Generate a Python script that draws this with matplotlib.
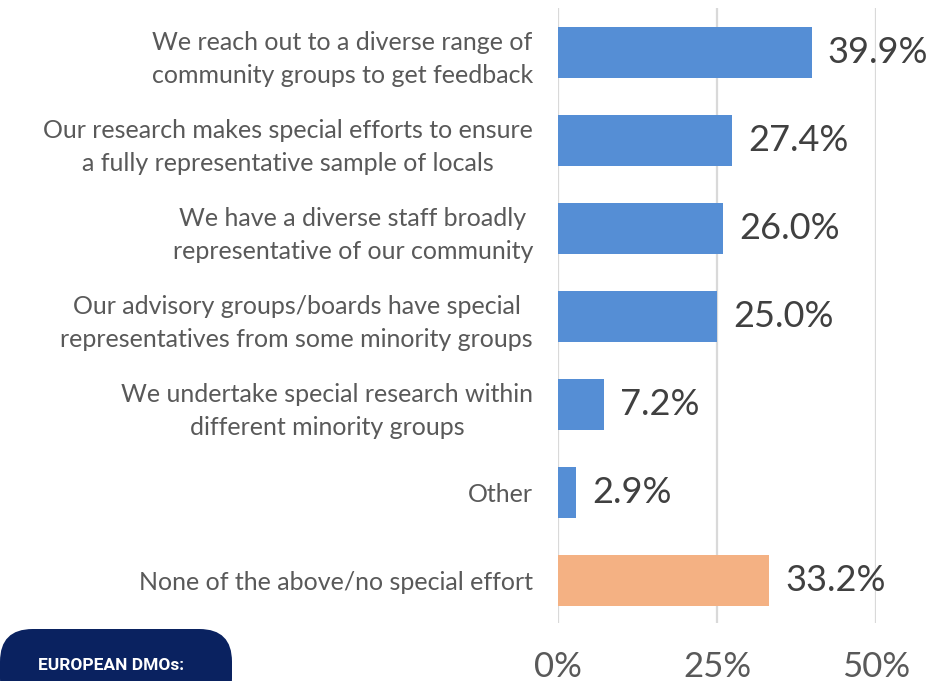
import matplotlib
matplotlib.use("Agg")
import matplotlib.pyplot as plt
from matplotlib.patches import FancyBboxPatch

plt.rcParams['font.family'] = ['Lato', 'DejaVu Sans']

# survey answers, top to bottom
categories = [
    "We reach out to a diverse range of\ncommunity groups to get feedback",
    "Our research makes special efforts to ensure\na fully representative sample of locals",
    "We have a diverse staff broadly\nrepresentative of our community",
    "Our advisory groups/boards have special\nrepresentatives from some minority groups",
    "We undertake special research within\ndifferent minority groups",
    "Other",
    "None of the above/no special effort",
]
shares = [39.9, 27.4, 26.0, 25.0, 7.2, 2.9, 33.2]
x_ticks = [0, 25, 50]
x_tick_labels = ["0%", "25%", "50%"]

BLUE = "#558ed5"
ORANGE = "#f4b183"
bar_colors = [BLUE] * 6 + [ORANGE]

fig = plt.figure(figsize=(9.32, 6.81), dpi=100)
ax = fig.add_axes([558 / 932, 1 - 623 / 681, 318 / 932, 615 / 681])

ypos = list(range(len(categories)))
ax.barh(ypos, shares, height=0.58, color=bar_colors, zorder=3)

for y, v in zip(ypos, shares):
    ax.text(v + 2.5, y, f"{v:.1f}%", va="center", ha="left",
            fontsize=26, color="#404040", clip_on=False)

ax.set_xlim(0, 50)
ax.set_ylim(6.48, -0.5)
ax.set_xticks(x_ticks)
ax.set_xticklabels(x_tick_labels, fontsize=25, color="#595959")
ax.set_yticks(ypos)
ax.set_yticklabels(categories, fontsize=18, color="#595959", linespacing=1.5)
for lab in ax.get_yticklabels():
    lab.set_multialignment("center")

ax.tick_params(axis="x", length=0, pad=20)
ax.tick_params(axis="y", length=0, pad=18)
ax.grid(axis="x", color="#d9d9d9", linewidth=1.6, zorder=0)
for s in ax.spines.values():
    s.set_visible(False)

# navy tag in the bottom-left corner
tag = FancyBboxPatch((0, -30 / 681), 232 / 932, (681 - 629 + 30) / 681,
                     boxstyle="round,pad=0,rounding_size=0.035",
                     transform=fig.transFigure, facecolor="#0a2260",
                     edgecolor="none", mutation_aspect=932 / 681)
fig.patches.append(tag)
fig.text(111 / 932, 1 - 665 / 681, "EUROPEAN DMOs:", color="white",
         fontsize=12.5, fontweight="bold", family=["Roboto", "DejaVu Sans"],
         ha="center", va="center")

fig.savefig("out.png", dpi=100)
